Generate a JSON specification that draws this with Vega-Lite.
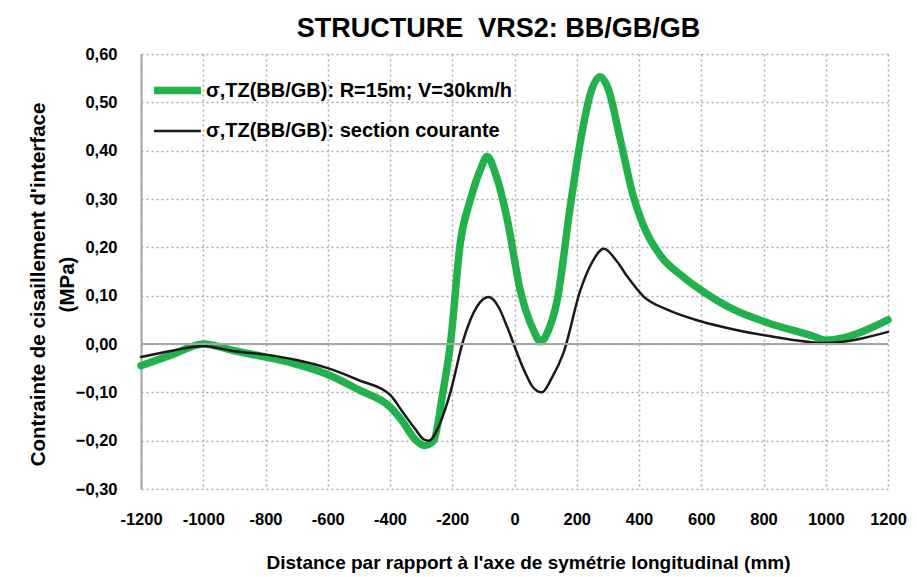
{
  "$schema": "https://vega.github.io/schema/vega-lite/v6.json",
  "width": 747,
  "height": 435,
  "autosize": {"type": "none"},
  "padding": {"left": 141, "top": 54, "right": 29, "bottom": 88},
  "background": "white",
  "title": {
    "text": "STRUCTURE \u00a0VRS2: BB/GB/GB",
    "font": "Liberation Sans",
    "fontSize": 27,
    "fontWeight": "bold",
    "color": "#000000",
    "anchor": "middle",
    "dx": -16,
    "offset": 3
  },
  "config": {
    "view": {"stroke": null},
    "axis": {
      "labelFont": "Liberation Sans",
      "labelFontWeight": "bold",
      "labelFontSize": 16.5,
      "labelColor": "#000000",
      "titleFont": "Liberation Sans",
      "titleFontWeight": "bold",
      "titleColor": "#000000",
      "grid": true,
      "gridColor": "#aaaaaa",
      "gridDash": [2, 3],
      "gridWidth": 1.5,
      "ticks": false,
      "labelOverlap": false,
      "labelFlush": false
    }
  },
  "data": {
    "values": [
      {"x": -1200, "y": -0.045, "serie": "σ,TZ(BB/GB): R=15m; V=30km/h"},
      {"x": -1100, "y": -0.022, "serie": "σ,TZ(BB/GB): R=15m; V=30km/h"},
      {"x": -1000, "y": 0.0, "serie": "σ,TZ(BB/GB): R=15m; V=30km/h"},
      {"x": -900, "y": -0.014, "serie": "σ,TZ(BB/GB): R=15m; V=30km/h"},
      {"x": -800, "y": -0.027, "serie": "σ,TZ(BB/GB): R=15m; V=30km/h"},
      {"x": -700, "y": -0.042, "serie": "σ,TZ(BB/GB): R=15m; V=30km/h"},
      {"x": -600, "y": -0.063, "serie": "σ,TZ(BB/GB): R=15m; V=30km/h"},
      {"x": -500, "y": -0.095, "serie": "σ,TZ(BB/GB): R=15m; V=30km/h"},
      {"x": -400, "y": -0.13, "serie": "σ,TZ(BB/GB): R=15m; V=30km/h"},
      {"x": -360, "y": -0.16, "serie": "σ,TZ(BB/GB): R=15m; V=30km/h"},
      {"x": -320, "y": -0.197, "serie": "σ,TZ(BB/GB): R=15m; V=30km/h"},
      {"x": -290, "y": -0.21, "serie": "σ,TZ(BB/GB): R=15m; V=30km/h"},
      {"x": -260, "y": -0.2, "serie": "σ,TZ(BB/GB): R=15m; V=30km/h"},
      {"x": -230, "y": -0.1, "serie": "σ,TZ(BB/GB): R=15m; V=30km/h"},
      {"x": -206, "y": 0.0, "serie": "σ,TZ(BB/GB): R=15m; V=30km/h"},
      {"x": -174, "y": 0.21, "serie": "σ,TZ(BB/GB): R=15m; V=30km/h"},
      {"x": -141, "y": 0.3, "serie": "σ,TZ(BB/GB): R=15m; V=30km/h"},
      {"x": -110, "y": 0.36, "serie": "σ,TZ(BB/GB): R=15m; V=30km/h"},
      {"x": -88, "y": 0.388, "serie": "σ,TZ(BB/GB): R=15m; V=30km/h"},
      {"x": -60, "y": 0.35, "serie": "σ,TZ(BB/GB): R=15m; V=30km/h"},
      {"x": -24, "y": 0.26, "serie": "σ,TZ(BB/GB): R=15m; V=30km/h"},
      {"x": 19, "y": 0.11, "serie": "σ,TZ(BB/GB): R=15m; V=30km/h"},
      {"x": 60, "y": 0.03, "serie": "σ,TZ(BB/GB): R=15m; V=30km/h"},
      {"x": 84, "y": 0.005, "serie": "σ,TZ(BB/GB): R=15m; V=30km/h"},
      {"x": 110, "y": 0.03, "serie": "σ,TZ(BB/GB): R=15m; V=30km/h"},
      {"x": 137, "y": 0.09, "serie": "σ,TZ(BB/GB): R=15m; V=30km/h"},
      {"x": 179, "y": 0.284, "serie": "σ,TZ(BB/GB): R=15m; V=30km/h"},
      {"x": 212, "y": 0.42, "serie": "σ,TZ(BB/GB): R=15m; V=30km/h"},
      {"x": 245, "y": 0.52, "serie": "σ,TZ(BB/GB): R=15m; V=30km/h"},
      {"x": 275, "y": 0.553, "serie": "σ,TZ(BB/GB): R=15m; V=30km/h"},
      {"x": 300, "y": 0.53, "serie": "σ,TZ(BB/GB): R=15m; V=30km/h"},
      {"x": 341, "y": 0.42, "serie": "σ,TZ(BB/GB): R=15m; V=30km/h"},
      {"x": 380, "y": 0.31, "serie": "σ,TZ(BB/GB): R=15m; V=30km/h"},
      {"x": 405, "y": 0.26, "serie": "σ,TZ(BB/GB): R=15m; V=30km/h"},
      {"x": 469, "y": 0.183, "serie": "σ,TZ(BB/GB): R=15m; V=30km/h"},
      {"x": 540, "y": 0.14, "serie": "σ,TZ(BB/GB): R=15m; V=30km/h"},
      {"x": 598, "y": 0.112, "serie": "σ,TZ(BB/GB): R=15m; V=30km/h"},
      {"x": 705, "y": 0.071, "serie": "σ,TZ(BB/GB): R=15m; V=30km/h"},
      {"x": 813, "y": 0.044, "serie": "σ,TZ(BB/GB): R=15m; V=30km/h"},
      {"x": 961, "y": 0.016, "serie": "σ,TZ(BB/GB): R=15m; V=30km/h"},
      {"x": 1000, "y": 0.008, "serie": "σ,TZ(BB/GB): R=15m; V=30km/h"},
      {"x": 1200, "y": 0.05, "serie": "σ,TZ(BB/GB): R=15m; V=30km/h"},
      {"x": -1200, "y": -0.027, "serie": "σ,TZ(BB/GB): section courante"},
      {"x": -1100, "y": -0.014, "serie": "σ,TZ(BB/GB): section courante"},
      {"x": -1000, "y": -0.004, "serie": "σ,TZ(BB/GB): section courante"},
      {"x": -900, "y": -0.015, "serie": "σ,TZ(BB/GB): section courante"},
      {"x": -800, "y": -0.022, "serie": "σ,TZ(BB/GB): section courante"},
      {"x": -700, "y": -0.033, "serie": "σ,TZ(BB/GB): section courante"},
      {"x": -600, "y": -0.05, "serie": "σ,TZ(BB/GB): section courante"},
      {"x": -500, "y": -0.075, "serie": "σ,TZ(BB/GB): section courante"},
      {"x": -400, "y": -0.105, "serie": "σ,TZ(BB/GB): section courante"},
      {"x": -360, "y": -0.14, "serie": "σ,TZ(BB/GB): section courante"},
      {"x": -320, "y": -0.175, "serie": "σ,TZ(BB/GB): section courante"},
      {"x": -290, "y": -0.198, "serie": "σ,TZ(BB/GB): section courante"},
      {"x": -275, "y": -0.2, "serie": "σ,TZ(BB/GB): section courante"},
      {"x": -240, "y": -0.165, "serie": "σ,TZ(BB/GB): section courante"},
      {"x": -206, "y": -0.1, "serie": "σ,TZ(BB/GB): section courante"},
      {"x": -164, "y": 0.009, "serie": "σ,TZ(BB/GB): section courante"},
      {"x": -120, "y": 0.078, "serie": "σ,TZ(BB/GB): section courante"},
      {"x": -83, "y": 0.097, "serie": "σ,TZ(BB/GB): section courante"},
      {"x": -50, "y": 0.075, "serie": "σ,TZ(BB/GB): section courante"},
      {"x": -24, "y": 0.036, "serie": "σ,TZ(BB/GB): section courante"},
      {"x": 30, "y": -0.053, "serie": "σ,TZ(BB/GB): section courante"},
      {"x": 60, "y": -0.09, "serie": "σ,TZ(BB/GB): section courante"},
      {"x": 88, "y": -0.1, "serie": "σ,TZ(BB/GB): section courante"},
      {"x": 120, "y": -0.07, "serie": "σ,TZ(BB/GB): section courante"},
      {"x": 157, "y": -0.019, "serie": "σ,TZ(BB/GB): section courante"},
      {"x": 212, "y": 0.112, "serie": "σ,TZ(BB/GB): section courante"},
      {"x": 250, "y": 0.17, "serie": "σ,TZ(BB/GB): section courante"},
      {"x": 287, "y": 0.197, "serie": "σ,TZ(BB/GB): section courante"},
      {"x": 330, "y": 0.17, "serie": "σ,TZ(BB/GB): section courante"},
      {"x": 362, "y": 0.14, "serie": "σ,TZ(BB/GB): section courante"},
      {"x": 415, "y": 0.098, "serie": "σ,TZ(BB/GB): section courante"},
      {"x": 491, "y": 0.071, "serie": "σ,TZ(BB/GB): section courante"},
      {"x": 598, "y": 0.047, "serie": "σ,TZ(BB/GB): section courante"},
      {"x": 705, "y": 0.03, "serie": "σ,TZ(BB/GB): section courante"},
      {"x": 813, "y": 0.017, "serie": "σ,TZ(BB/GB): section courante"},
      {"x": 1000, "y": 0.002, "serie": "σ,TZ(BB/GB): section courante"},
      {"x": 1200, "y": 0.025, "serie": "σ,TZ(BB/GB): section courante"}
    ]
  },
  "layer": [
    {
      "mark": {"type": "line", "interpolate": "monotone", "strokeCap": "round", "strokeJoin": "round"},
      "encoding": {
        "x": {
          "field": "x",
          "type": "quantitative",
          "scale": {"domain": [-1200, 1200], "nice": false, "zero": false},
          "axis": {
            "values": [-1200, -1000, -800, -600, -400, -200, 0, 200, 400, 600, 800, 1000, 1200],
            "labelExpr": "'' + datum.value",
            "domain": false,
            "grid": true,
            "labelPadding": 22,
            "title": "Distance par rapport à l'axe de symétrie longitudinal (mm)",
            "titleFontSize": 19,
            "titlePadding": 26,
            "titleX": 387
          }
        },
        "y": {
          "field": "y",
          "type": "quantitative",
          "scale": {"domain": [-0.3, 0.6], "nice": false, "zero": false},
          "axis": {
            "values": [-0.3, -0.2, -0.1, 0, 0.1, 0.2, 0.3, 0.4, 0.5, 0.6],
            "labelExpr": "replace(format(datum.value, '.2f'), '.', ',')",
            "grid": true,
            "domain": true,
            "domainColor": "#a6a6a6",
            "domainWidth": 2,
            "labelPadding": 24,
            "title": ["Contrainte de cisaillement d'interface", "(MPa)"],
            "titleFontSize": 20.5,
            "titleLineHeight": 29,
            "titlePadding": -2,
            "titleY": 230
          }
        },
        "color": {
          "field": "serie",
          "type": "nominal",
          "scale": {
            "domain": ["σ,TZ(BB/GB): R=15m; V=30km/h", "σ,TZ(BB/GB): section courante"],
            "range": ["#22b14c", "#1a1a1a"]
          },
          "legend": {
            "title": null,
            "orient": "none",
            "legendX": 9,
            "legendY": 9,
            "symbolType": "stroke",
            "symbolSize": 2200,
            "labelFont": "Liberation Sans",
            "labelFontWeight": "bold",
            "labelFontSize": 20,
            "labelColor": "#000000",
            "labelOffset": 1,
            "labelLimit": 600,
            "rowPadding": -5
          }
        },
        "strokeWidth": {
          "field": "serie",
          "type": "nominal",
          "scale": {
            "domain": ["σ,TZ(BB/GB): R=15m; V=30km/h", "σ,TZ(BB/GB): section courante"],
            "range": [7.5, 2.5]
          },
          "legend": {
            "title": null,
            "orient": "none",
            "legendX": 9,
            "legendY": 9,
            "symbolType": "stroke",
            "symbolSize": 2200,
            "labelFont": "Liberation Sans",
            "labelFontWeight": "bold",
            "labelFontSize": 20,
            "labelColor": "#000000",
            "labelOffset": 1,
            "labelLimit": 600,
            "rowPadding": -5
          }
        }
      }
    },
    {
      "mark": {"type": "rule", "color": "#a6a6a6", "strokeWidth": 2},
      "encoding": {"y": {"datum": 0, "type": "quantitative"}}
    }
  ]
}
